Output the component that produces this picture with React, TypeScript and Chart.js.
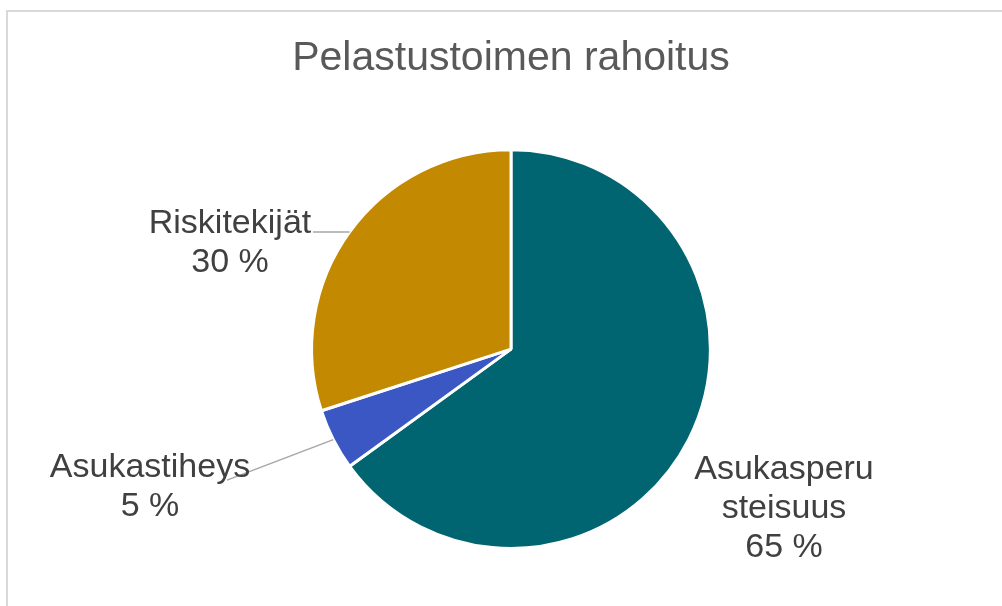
import React, { useEffect, useRef } from "react";
import { Chart, registerables } from "chart.js";

Chart.register(...registerables);

const titleText = "Pelastustoimen rahoitus";
const categories = ["Asukasperusteisuus", "Asukastiheys", "Riskitekijät"];
const labelLines = [["Asukasperu", "steisuus"], ["Asukastiheys"], ["Riskitekijät"]];
const values = [65, 5, 30];
const sliceColors = ["#006571", "#3b57c3", "#c38900"];

// label anchor (centre x, first baseline) relative to pie centre, and leader start relative to anchor
const labelLayout = [
  { dx: 273, dy: 130, leader: null as null | { x: number; y: number } },
  { dx: -361, dy: 128, leader: { x: 77, y: 3 } },
  { dx: -281, dy: -116, leader: { x: 83, y: -1 } },
];

const FONT = "'Liberation Sans', Arial, sans-serif";

const labelPlugin = {
  id: "pieLabels",
  beforeDraw(chart: any) {
    const ctx = chart.ctx;
    ctx.save();
    ctx.fillStyle = "#ffffff";
    ctx.fillRect(0, 0, chart.width, chart.height);
    ctx.strokeStyle = "#d9d9d9";
    ctx.lineWidth = 2;
    ctx.beginPath();
    ctx.moveTo(7, chart.height + 5);
    ctx.lineTo(7, 11);
    ctx.lineTo(chart.width + 5, 11);
    ctx.stroke();
    ctx.restore();
  },
  afterDatasetsDraw(chart: any) {
    const ctx = chart.ctx;
    const meta = chart.getDatasetMeta(0);
    ctx.save();
    meta.data.forEach((arc: any, i: number) => {
      const p = arc.getProps(["x", "y", "startAngle", "endAngle", "outerRadius"], true);
      const lay = labelLayout[i];
      const ax = p.x + lay.dx;
      const ay = p.y + lay.dy;
      if (lay.leader) {
        const mid = (p.startAngle + p.endAngle) / 2;
        const r = p.outerRadius;
        ctx.strokeStyle = "#a6a6a6";
        ctx.lineWidth = 1.5;
        ctx.beginPath();
        ctx.moveTo(ax + lay.leader.x, ay + lay.leader.y);
        ctx.lineTo(p.x + Math.cos(mid) * r, p.y + Math.sin(mid) * r);
        ctx.stroke();
      }
      const lines = [...labelLines[i], `${values[i]} %`];
      ctx.fillStyle = "#404040";
      ctx.font = `34px ${FONT}`;
      ctx.textAlign = "center";
      ctx.textBaseline = "alphabetic";
      lines.forEach((t, j) => ctx.fillText(t, ax, ay + j * 39));
    });
    ctx.restore();
  },
};

export default function App() {
  const ref = useRef<HTMLCanvasElement>(null);
  useEffect(() => {
    if (!ref.current) return;
    const chart = new Chart(ref.current, {
      type: "pie",
      data: {
        labels: categories,
        datasets: [
          {
            data: values,
            backgroundColor: sliceColors,
            borderColor: "#ffffff",
            borderWidth: 3,
          },
        ],
      },
      options: {
        responsive: false,
        animation: false,
        layout: { padding: { left: 120, right: 100, top: 0, bottom: 56 } },
        plugins: {
          legend: { display: false },
          tooltip: { enabled: false },
          title: {
            display: true,
            text: titleText,
            color: "#595959",
            font: { family: FONT, size: 41, weight: "normal", lineHeight: 1.2 },
            padding: { top: 34, bottom: 65 },
          },
        },
      },
      plugins: [labelPlugin],
    });
    return () => chart.destroy();
  }, []);
  return (
    <div style={{ position: "fixed", left: 0, top: 0, width: 1002, height: 606, background: "#fff" }}>
      <canvas ref={ref} width={1002} height={606} style={{ width: 1002, height: 606, display: "block" }} />
    </div>
  );
}
